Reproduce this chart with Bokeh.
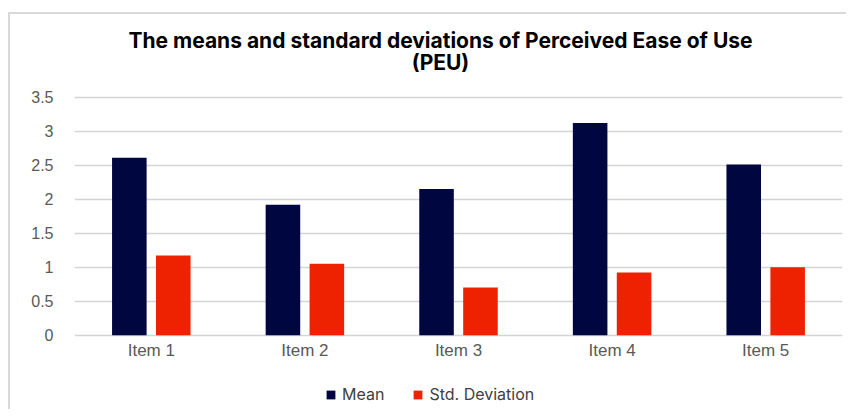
from bokeh.plotting import figure
from bokeh.models import (ColumnDataSource, FactorRange, Range1d, FixedTicker,
                          Legend, LegendItem, Label)
from bokeh.core.properties import value
from bokeh.transform import dodge
from bokeh.embed import file_html
from bokeh.resources import INLINE

# ---- data ----
items = ["Item 1", "Item 2", "Item 3", "Item 4", "Item 5"]
means = [2.61, 1.92, 2.15, 3.12, 2.51]
std_devs = [1.17, 1.05, 0.70, 0.92, 1.00]
y_ticks = [0, 0.5, 1, 1.5, 2, 2.5, 3, 3.5]
y_tick_labels = ["0", "0.5", "1", "1.5", "2", "2.5", "3", "3.5"]
series_names = ["Mean", "Std. Deviation"]
title_lines = ["The means and standard deviations of Perceived Ease of Use", "(PEU)"]

source = ColumnDataSource(dict(items=items, means=means, std_devs=std_devs))

# frame covers the full height; value axis 0..3.5 sits inside it
p = figure(x_range=FactorRange(*items), y_range=Range1d(-1.093, 4.922),
           width=846, height=409, title=None,
           x_axis_location=None, y_axis_location="left",
           output_backend="svg", toolbar_location=None,
           min_border_left=74, min_border_right=4,
           min_border_top=0, min_border_bottom=0)
p.outline_line_color = None
p.background_fill_alpha = 0
p.border_fill_alpha = 0
# chart-area border (light grey lines at left and top), drawn behind the canvas
p.styles = {
    "background": ("linear-gradient(#d9d9d9, #d9d9d9) 8px 12px / 2px 100% no-repeat, "
                   "linear-gradient(#d9d9d9, #d9d9d9) 8px 12px / 100% 2px no-repeat, "
                   "#ffffff"),
}

r1 = p.vbar(x=dodge("items", -0.143, range=p.x_range), top="means", width=0.225,
            source=source, fill_color="#000640", line_color=None)
r2 = p.vbar(x=dodge("items", 0.143, range=p.x_range), top="std_devs", width=0.225,
            source=source, fill_color="#EE2200", line_color=None)

p.xgrid.grid_line_color = None
p.ygrid.grid_line_color = "#d4d4d4"
p.ygrid.grid_line_width = 1.5
p.ygrid.ticker = FixedTicker(ticks=y_ticks)

p.yaxis.ticker = FixedTicker(ticks=y_ticks)
p.yaxis.major_label_overrides = {t: l for t, l in zip(y_ticks, y_tick_labels)}
p.yaxis.axis_line_color = None
p.yaxis.major_tick_line_color = None
p.yaxis.minor_tick_line_color = None
p.yaxis.major_tick_out = 0
p.yaxis.major_tick_in = 0
p.yaxis.major_label_text_font = "Liberation Sans"
p.yaxis.major_label_text_font_size = "16px"
p.yaxis.major_label_text_color = "#595959"
p.yaxis.major_label_standoff = 21

# category labels under the zero line
p.text(x="items", y=-0.225, text="items", source=source,
       text_align="center", text_baseline="middle",
       text_font=value("Liberation Sans"), text_font_size="17px",
       text_color="#595959")

legend = Legend(items=[LegendItem(label=series_names[0], renderers=[r1]),
                       LegendItem(label=series_names[1], renderers=[r2])],
                orientation="horizontal", location=(251, 5),
                padding=0, margin=0, spacing=28,
                glyph_width=11, glyph_height=11, label_standoff=6,
                label_height=16,
                label_text_font="Inter", label_text_font_size="16px",
                label_text_color="#404040",
                border_line_color=None, background_fill_alpha=0)
p.add_layout(legend)

l1 = Label(x=366, y=4.334, x_units="screen", y_units="data", text=title_lines[0],
           text_align="center", text_baseline="middle", text_font="Inter",
           text_font_style="bold", text_font_size="21px", text_color="#000000")
l2 = Label(x=366, y=4.003, x_units="screen", y_units="data", text=title_lines[1],
           text_align="center", text_baseline="middle", text_font="Inter",
           text_font_style="bold", text_font_size="21px", text_color="#000000")
p.add_layout(l1)
p.add_layout(l2)

open("out.html", "w").write(file_html(p, INLINE))
